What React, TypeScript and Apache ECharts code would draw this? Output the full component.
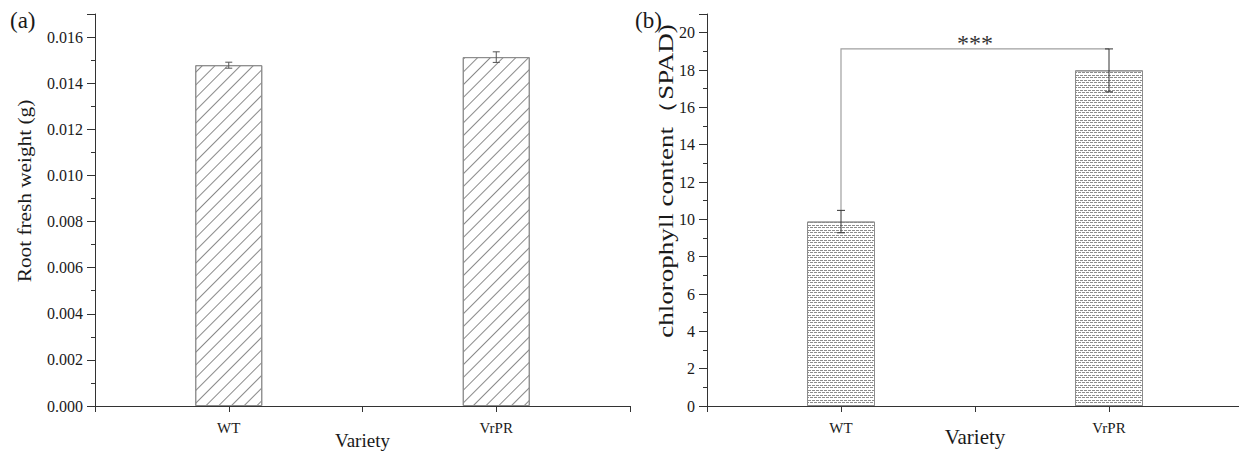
import React, { useEffect, useRef } from 'react';
import * as echarts from 'echarts';

const categories = ['WT', 'VrPR'];
const rootWeight = [0.01478, 0.01513];
const rootWeightErr = [0.00013, 0.00023];
const chlorophyll = [9.88, 17.98];
const chlorophyllErr = [0.6, 1.15];
const significance = '***';
const bracketLevel = 19.13;
const rootAxisMax = 0.017;
const rootAxisInterval = 0.002;
const chlAxisMax = 21;
const chlAxisInterval = 2;
const rootAxisName = 'Root fresh weight (g)';
const chlAxisName = 'chlorophyll content（SPAD)';
const xAxisName = 'Variety';

const FONT = '"Liberation Serif", "Times New Roman", serif';
const AXIS_COLOR = '#333';
const TEXT_COLOR = '#1a1a1a';

const xPos = categories.map((_, i) => 2 * i + 1);

const errorRender = (color: string, cap: number) => (params: any, api: any) => {
  const x = api.value(0);
  const lo = api.coord([x, api.value(1)]);
  const hi = api.coord([x, api.value(2)]);
  const style = { stroke: color, lineWidth: 1 };
  return {
    type: 'group',
    children: [
      { type: 'line', shape: { x1: lo[0], y1: lo[1], x2: hi[0], y2: hi[1] }, style },
      { type: 'line', shape: { x1: hi[0] - cap, y1: hi[1], x2: hi[0] + cap, y2: hi[1] }, style },
      { type: 'line', shape: { x1: lo[0] - cap, y1: lo[1], x2: lo[0] + cap, y2: lo[1] }, style },
    ],
  };
};

const bracketRender = (params: any, api: any) => {
  const x0 = api.value(0);
  const x1 = api.value(1);
  const lvl = api.value(4);
  const a = api.coord([x0, api.value(2)]);
  const b = api.coord([x0, lvl]);
  const c = api.coord([x1, lvl]);
  const d = api.coord([x1, api.value(3)]);
  const mid = api.coord([(x0 + x1) / 2, lvl]);
  return {
    type: 'group',
    children: [
      {
        type: 'polyline',
        shape: { points: [a, b, c, d] },
        style: { stroke: '#a0a0a0', fill: 'none', lineWidth: 1.2 },
      },
      {
        type: 'text',
        x: mid[0],
        y: mid[1] - 6,
        style: {
          text: significance,
          textAlign: 'center',
          textVerticalAlign: 'middle',
          fontSize: 24,
          fontFamily: FONT,
          fill: '#333',
        },
      },
    ],
  };
};

const makeXAxis = (gridIndex: number, nameSize: number, nameGap: number) => ({
  type: 'value',
  gridIndex,
  min: 0,
  max: 4,
  interval: 1,
  axisLine: { show: true, lineStyle: { color: AXIS_COLOR, width: 1 } },
  axisTick: { show: true, length: 6, lineStyle: { color: AXIS_COLOR } },
  splitLine: { show: false },
  axisLabel: {
    margin: 14,
    fontFamily: FONT,
    fontSize: 15,
    color: TEXT_COLOR,
    formatter: (v: number) => {
      const i = xPos.indexOf(v);
      return i >= 0 ? categories[i] : '';
    },
  },
  name: xAxisName,
  nameLocation: 'middle',
  nameGap,
  nameMoveOverlap: false,
  nameTextStyle: { fontFamily: FONT, fontSize: nameSize, color: TEXT_COLOR },
});

const makeYAxis = (gridIndex: number, max: number, interval: number, digits: number) => ({
  type: 'value',
  gridIndex,
  min: 0,
  max,
  interval,
  axisLine: { show: true, lineStyle: { color: AXIS_COLOR, width: 1 } },
  axisTick: { show: true, length: 8, lineStyle: { color: AXIS_COLOR } },
  minorTick: { show: true, splitNumber: 2, length: 4, lineStyle: { color: AXIS_COLOR } },
  splitLine: { show: false },
  axisLabel: {
    margin: 12,
    fontFamily: FONT,
    fontSize: 16,
    color: TEXT_COLOR,
    showMaxLabel: false,
    formatter: (v: number) => v.toFixed(digits),
  },
});

export default function App() {
  const ref = useRef<HTMLDivElement>(null);
  useEffect(() => {
    if (!ref.current) return;
    const chart = echarts.init(ref.current, undefined, { renderer: 'svg' });
    const option: any = {
      animation: false,
      backgroundColor: '#fff',
      title: [
        { text: '(a)', left: 10, top: 9, padding: 0, textStyle: { fontFamily: FONT, fontSize: 23, fontWeight: 'normal', color: TEXT_COLOR } },
        { text: '(b)', left: 635, top: 9, padding: 0, textStyle: { fontFamily: FONT, fontSize: 23, fontWeight: 'normal', color: TEXT_COLOR } },
      ],
      graphic: [
        {
          type: 'text',
          x: 24,
          y: 191,
          rotation: Math.PI / 2,
          scaleX: 1.12,
          style: {
            text: rootAxisName,
            textAlign: 'center',
            textVerticalAlign: 'middle',
            fontFamily: FONT,
            fontSize: 19,
            fill: TEXT_COLOR,
          },
        },
        {
          type: 'text',
          x: 666,
          y: 181,
          rotation: Math.PI / 2,
          scaleX: 1.35,
          style: {
            text: chlAxisName,
            textAlign: 'center',
            textVerticalAlign: 'middle',
            fontFamily: FONT,
            fontSize: 20,
            fill: TEXT_COLOR,
          },
        },
      ],
      grid: [
        { left: 95, top: 14, width: 535, height: 392, outerBoundsMode: 'none', containLabel: false },
        { left: 707, top: 14, width: 536, height: 392, outerBoundsMode: 'none', containLabel: false },
      ],
      xAxis: [makeXAxis(0, 19, 25), makeXAxis(1, 21, 20)],
      yAxis: [
        makeYAxis(0, rootAxisMax, rootAxisInterval, 3),
        makeYAxis(1, chlAxisMax, chlAxisInterval, 0),
      ],
      series: [
        {
          type: 'bar',
          xAxisIndex: 0,
          yAxisIndex: 0,
          barWidth: 67,
          data: xPos.map((x, i) => [x, rootWeight[i]]),
          itemStyle: {
            color: '#fff',
            borderColor: '#8c8c8c',
            borderWidth: 1,
            decal: {
              symbol: 'rect',
              symbolSize: 1,
              color: '#8a8a8a',
              dashArrayX: [1, 0],
              dashArrayY: [1, 8],
              rotation: -Math.PI / 4,
            },
          },
        },
        {
          type: 'custom',
          xAxisIndex: 0,
          yAxisIndex: 0,
          renderItem: errorRender('#555', 3.5),
          data: xPos.map((x, i) => [x, rootWeight[i] - rootWeightErr[i], rootWeight[i] + rootWeightErr[i]]),
          z: 5,
        },
        {
          type: 'bar',
          xAxisIndex: 1,
          yAxisIndex: 1,
          barWidth: 68,
          data: xPos.map((x, i) => [x, chlorophyll[i]]),
          itemStyle: {
            color: '#fff',
            borderColor: '#8c8c8c',
            borderWidth: 1,
            decal: {
              symbol: 'rect',
              symbolSize: 1,
              color: '#8c8c8c',
              dashArrayX: [[3, 1], [1, 1, 2, 0]],
              dashArrayY: [1, 1, 1, 2],
              rotation: 0,
            },
          },
        },
        {
          type: 'custom',
          xAxisIndex: 1,
          yAxisIndex: 1,
          renderItem: bracketRender,
          data: [[
            xPos[0],
            xPos[1],
            chlorophyll[0] + chlorophyllErr[0],
            chlorophyll[1] + chlorophyllErr[1],
            bracketLevel,
          ]],
          z: 4,
        },
        {
          type: 'custom',
          xAxisIndex: 1,
          yAxisIndex: 1,
          renderItem: errorRender('#333', 4),
          data: xPos.map((x, i) => [x, chlorophyll[i] - chlorophyllErr[i], chlorophyll[i] + chlorophyllErr[i]]),
          z: 5,
        },
      ],
    };
    chart.setOption(option);
    return () => chart.dispose();
  }, []);
  return (
    <div
      ref={ref}
      style={{ position: 'fixed', left: 0, top: 0, width: 1239, height: 451, background: '#fff' }}
    />
  );
}
